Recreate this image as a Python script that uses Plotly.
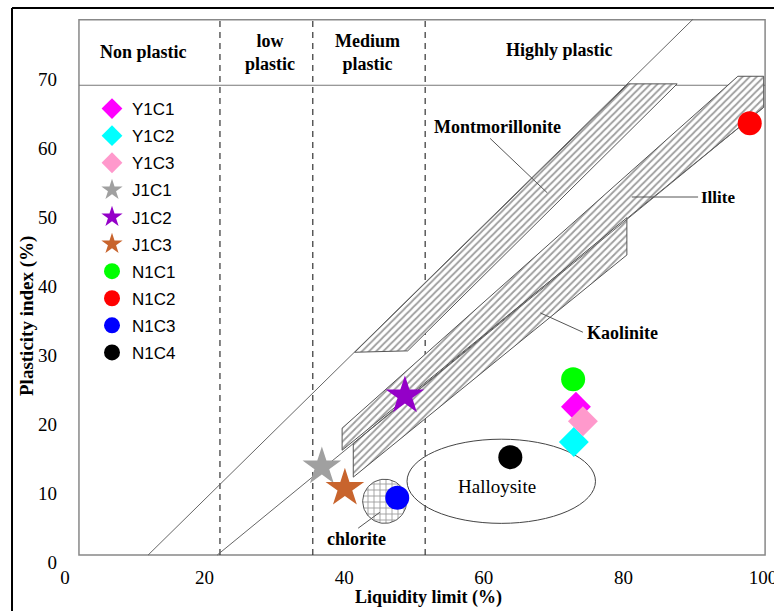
import numpy as np
import plotly.graph_objects as go

# ---- Sample measurements: liquid limit (%) vs plasticity index (%) ----
samples = ["Y1C1", "Y1C2", "Y1C3", "J1C1", "J1C2", "J1C3", "N1C1", "N1C2", "N1C3", "N1C4"]
liquid_limit = [73.2, 72.9, 74.2, 36.8, 48.7, 40.1, 72.8, 98.1, 47.6, 63.8]
plasticity_index = [22.5, 17.4, 20.4, 13.8, 24.1, 10.7, 26.5, 63.6, 9.3, 15.2]

marker_symbols = ["diamond"] * 3 + ["star"] * 3 + ["circle"] * 4
marker_colors = ["#FF00FF", "#00FFFF", "#FF99CC", "#A0A0A0", "#9400C8",
                 "#C8642D", "#00FF00", "#FF0000", "#0000FF", "#000000"]
marker_sizes = [23, 23, 23, 29, 29, 29, 24, 24, 24, 24]

# ---- Reference lines of the plasticity chart (LL, PI end points) ----
upper_line_ll = [11.9, 90.0]
upper_line_pi = [1.0, 78.7]
lower_line_ll = [21.8, 100.1]
lower_line_pi = [1.0, 65.9]

# ---- Clay-mineral zones ----
montmorillonite_ll = [41.5, 49.1, 87.7, 80.7]
montmorillonite_pi = [30.4, 30.6, 69.3, 69.3]
illite_ll = [39.7, 39.7, 96.4, 100.1, 100.1]
illite_pi = [16.2, 19.4, 70.4, 70.4, 65.9]
kaolinite_ll = [41.3, 41.3, 80.5, 80.5]
kaolinite_pi = [17.2, 12.3, 44.5, 49.9]

chlorite_center = (45.8, 8.8)
chlorite_radius = (3.15, 3.2)
halloysite_center = (62.5, 11.7)
halloysite_radius = (13.5, 6.1)

# ---- Plasticity class boundaries and header ----
class_bounds_ll = [22.2, 35.5, 51.6]
header_pi = 69.1
frame_ll = [2.0, 100.3]
frame_pi = [1.0, 78.6]
class_names = ["Non plastic", "low<br>plastic", "Medium<br>plastic", "Highly plastic"]
class_label_ll = [11.2, 29.4, 43.3, 70.9]
class_label_pi = [73.9, 73.9, 73.9, 74.2]

x_ticks = [0, 20, 40, 60, 80, 100]
y_ticks = [0, 10, 20, 30, 40, 50, 60, 70]

SERIF = "Liberation Serif, Times New Roman, DejaVu Serif, serif"
SANS = "Liberation Sans, Arial, sans-serif"
EDGE = "#555555"

fig = go.Figure()

hatch = dict(shape="/", size=5, solidity=0.36, fgcolor="#3c3c3c", bgcolor="white")
for xs, ys in [(montmorillonite_ll, montmorillonite_pi),
               (illite_ll, illite_pi),
               (kaolinite_ll, kaolinite_pi)]:
    fig.add_trace(go.Scatter(
        x=xs + [xs[0]], y=ys + [ys[0]], mode="lines", fill="toself",
        fillcolor="white", fillpattern=hatch,
        line=dict(color=EDGE, width=1), hoverinfo="skip", showlegend=False))

# chlorite: cross-hatched circle
t = np.linspace(0, 2 * np.pi, 90)
fig.add_trace(go.Scatter(
    x=chlorite_center[0] + chlorite_radius[0] * np.cos(t),
    y=chlorite_center[1] + chlorite_radius[1] * np.sin(t),
    mode="lines", fill="toself", fillcolor="white",
    fillpattern=dict(shape="+", size=6, solidity=0.28, fgcolor="#3c3c3c", bgcolor="white"),
    line=dict(color="#555555", width=1), hoverinfo="skip", showlegend=False))

# the two inclined chart lines
for xs, ys in [(upper_line_ll, upper_line_pi), (lower_line_ll, lower_line_pi)]:
    fig.add_trace(go.Scatter(x=xs, y=ys, mode="lines",
                             line=dict(color="#666666", width=1),
                             hoverinfo="skip", showlegend=False))

# samples
for i, name in enumerate(samples):
    fig.add_trace(go.Scatter(
        x=[liquid_limit[i]], y=[plasticity_index[i]], mode="markers", name=name,
        legendgroup=name,
        marker=dict(symbol=marker_symbols[i], size=marker_sizes[i],
                    color=marker_colors[i], line=dict(width=0))))

shapes = []
# inner frame and header separator
shapes.append(dict(type="rect", xref="x", yref="y", x0=frame_ll[0], x1=frame_ll[1],
                   y0=frame_pi[0], y1=frame_pi[1], line=dict(color="#888888", width=1.5),
                   layer="below"))
shapes.append(dict(type="line", xref="x", yref="y", x0=frame_ll[0], x1=frame_ll[1],
                   y0=header_pi, y1=header_pi, line=dict(color="#777777", width=1.2),
                   layer="below"))
for b in class_bounds_ll:
    shapes.append(dict(type="line", xref="x", yref="y", x0=b, x1=b,
                       y0=frame_pi[0], y1=frame_pi[1],
                       line=dict(color="#333333", width=1.2, dash="6px,5px"),
                       layer="below"))
# halloysite ellipse
shapes.append(dict(type="circle", xref="x", yref="y",
                   x0=halloysite_center[0] - halloysite_radius[0],
                   x1=halloysite_center[0] + halloysite_radius[0],
                   y0=halloysite_center[1] - halloysite_radius[1],
                   y1=halloysite_center[1] + halloysite_radius[1],
                   line=dict(color="#444444", width=1), layer="below"))
# leader lines
for x0, y0, x1, y1 in [(60.9, 61.4, 69.1, 53.5), (81.2, 52.9, 90.7, 52.9),
                       (68.1, 36.1, 74.2, 33.3), (42.0, 4.9, 45.1, 7.2)]:
    shapes.append(dict(type="line", xref="x", yref="y", x0=x0, y0=y0, x1=x1, y1=y1,
                       line=dict(color="#555555", width=1)))
# outer figure frame
shapes.append(dict(type="line", xref="paper", yref="paper", x0=-0.0756, x1=-0.0756,
                   y0=1.0203, y1=-0.2, line=dict(color="black", width=2)))
shapes.append(dict(type="line", xref="paper", yref="paper", x0=-0.0756, x1=1.2,
                   y0=1.0203, y1=1.0203, line=dict(color="black", width=2)))

annotations = []
for txt, x, y in zip(class_names, class_label_ll, class_label_pi):
    annotations.append(dict(x=x, y=y, xref="x", yref="y", text=f"<b>{txt}</b>",
                            showarrow=False, xanchor="center", yanchor="middle",
                            font=dict(family=SERIF, size=18, color="black")))
for txt, x, y, bold, size in [("Montmorillonite", 61.9, 63.0, True, 18),
                              ("Illite", 93.6, 52.9, True, 17),
                              ("Kaolinite", 79.9, 33.2, True, 18),
                              ("Halloysite", 61.9, 11.0, False, 19),
                              ("chlorite", 41.8, 3.3, True, 18)]:
    annotations.append(dict(x=x, y=y, xref="x", yref="y",
                            text=f"<b>{txt}</b>" if bold else txt, showarrow=False,
                            xanchor="center", yanchor="middle",
                            font=dict(family=SERIF, size=size, color="black")))
annotations.append(dict(x=(428 - 65) / 701, y=(562 - 597) / 543, xref="paper", yref="paper",
                        text="<b>Liquidity limit (%)</b>", showarrow=False,
                        xanchor="center", yanchor="middle",
                        font=dict(family=SERIF, size=18, color="black")))
annotations.append(dict(x=(27 - 65) / 701, y=(562 - 316) / 543, xref="paper", yref="paper",
                        text="<b>Plasticity index (%)</b>", showarrow=False, textangle=-90,
                        xanchor="center", yanchor="middle",
                        font=dict(family=SERIF, size=19, color="black")))

fig.update_layout(
    width=774, height=611,
    margin=dict(l=65, r=8, t=19, b=49, autoexpand=False),
    paper_bgcolor="white", plot_bgcolor="white",
    shapes=shapes, annotations=annotations,
    showlegend=True,
    legend=dict(x=(92 - 65) / 701, y=(562 - 91) / 543, xanchor="left", yanchor="top",
                bgcolor="rgba(0,0,0,0)", borderwidth=0, itemsizing="trace",
                tracegroupgap=2, font=dict(family=SANS, size=17, color="black")),
    xaxis=dict(range=[0, 100.43], tickvals=x_ticks, showgrid=False, zeroline=False,
               showline=False, ticks="", ticklabelstandoff=2, ticklabeloverflow="allow",
               automargin=False,
               tickfont=dict(family=SERIF, size=19, color="black")),
    yaxis=dict(range=[0, 78.7], tickvals=y_ticks, showgrid=False, zeroline=False,
               showline=False, ticks="", ticklabelstandoff=7, automargin=False,
               tickfont=dict(family=SERIF, size=19, color="black")),
)

fig.write_html("out.html")
